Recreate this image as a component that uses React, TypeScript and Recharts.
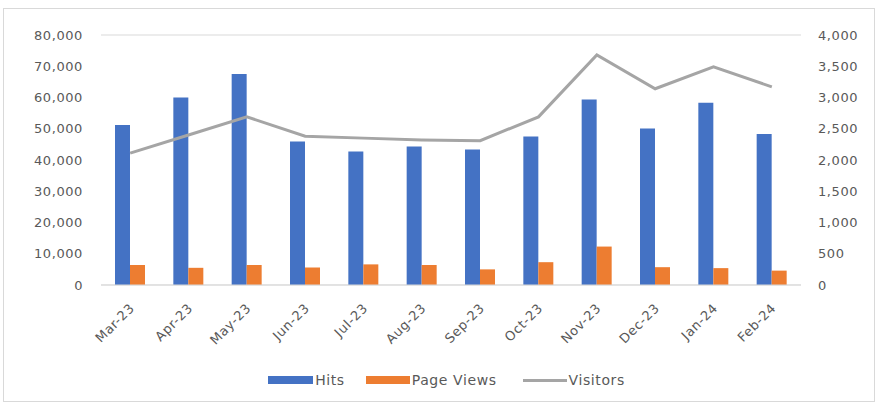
import React from 'react'
import { ComposedChart, Bar, Line, XAxis, YAxis, CartesianGrid, Legend } from 'recharts'

const months = ['Mar-23', 'Apr-23', 'May-23', 'Jun-23', 'Jul-23', 'Aug-23', 'Sep-23', 'Oct-23', 'Nov-23', 'Dec-23', 'Jan-24', 'Feb-24']
const hits = [51200, 60000, 67500, 45900, 42700, 44300, 43400, 47500, 59400, 50100, 58300, 48300]
const pageViews = [6400, 5500, 6400, 5600, 6600, 6400, 5000, 7300, 12300, 5700, 5400, 4600]
const visitors = [2110, 2400, 2690, 2380, 2350, 2320, 2310, 2690, 3680, 3140, 3490, 3170]

const leftTicks = [0, 10000, 20000, 30000, 40000, 50000, 60000, 70000, 80000]
const rightTicks = [0, 500, 1000, 1500, 2000, 2500, 3000, 3500, 4000]

const data = months.map((month, i) => ({
  month,
  hits: hits[i],
  pageViews: pageViews[i],
  visitors: visitors[i],
}))

const textColor = '#595959'
const font = '"DejaVu Sans", Arial, sans-serif'

const fmt = (v: number) => v.toLocaleString('en-US')

// rotated month labels, ending at the tick
const MonthTick = ({ x, y, payload }: any) => (
  <text
    x={x + 5}
    y={y + 16}
    transform={`rotate(-45 ${x + 5} ${y + 16})`}
    textAnchor="end"
    fill={textColor}
    fontSize={13}
    letterSpacing={0.6}
    fontFamily={font}
  >
    {payload.value}
  </text>
)

const LegendContent = () => (
  <div style={{ display: 'flex', justifyContent: 'center', alignItems: 'center', height: 38, paddingBottom: 12, paddingLeft: 14, boxSizing: 'border-box', fontFamily: font, fontSize: 14, letterSpacing: 0.6, color: textColor }}>
    <span style={{ display: 'inline-block', width: 45, height: 8, background: '#4472C4', marginRight: 2 }} />
    <span style={{ marginRight: 21 }}>Hits</span>
    <span style={{ display: 'inline-block', width: 44, height: 8, background: '#ED7D31', marginRight: 2 }} />
    <span style={{ marginRight: 26 }}>Page Views</span>
    <span style={{ display: 'inline-block', width: 44, height: 3, background: '#A5A5A5', marginRight: 2 }} />
    <span>Visitors</span>
  </div>
)

export default function App() {
  return (
    <div style={{ position: 'absolute', left: 0, top: 0, width: 879, height: 405, background: '#fff' }}>
      <div style={{ position: 'absolute', left: 3, top: 8, width: 872, height: 394, border: '1px solid #d9d9d9', boxSizing: 'border-box' }} />
      <ComposedChart
        width={879}
        height={405}
        data={data}
        margin={{ top: 35, right: 0, left: 0, bottom: 0 }}
        barCategoryGap="24%"
        barGap={0}
      >
        <CartesianGrid vertical={false} stroke="#d9d9d9" />
        <XAxis
          dataKey="month"
          axisLine={{ stroke: '#d9d9d9' }}
          tickLine={false}
          tick={<MonthTick />}
          interval={0}
          height={82}
        />
        <YAxis
          yAxisId="left"
          width={101}
          domain={[0, 80000]}
          ticks={leftTicks}
          tickFormatter={fmt}
          axisLine={false}
          tickLine={false}
          tickSize={0}
          tickMargin={18}
          tick={{ fill: textColor, fontSize: 13, fontFamily: font, letterSpacing: 0.6 }}
        />
        <YAxis
          yAxisId="right"
          orientation="right"
          width={78}
          domain={[0, 4000]}
          ticks={rightTicks}
          tickFormatter={fmt}
          axisLine={false}
          tickLine={false}
          tickSize={0}
          tickMargin={17}
          tick={{ fill: textColor, fontSize: 13, fontFamily: font, letterSpacing: 0.6, textAnchor: 'start' }}
        />
        <Legend verticalAlign="bottom" height={38} content={<LegendContent />} />
        <Bar yAxisId="left" dataKey="hits" name="Hits" fill="#4472C4" isAnimationActive={false} />
        <Bar yAxisId="left" dataKey="pageViews" name="Page Views" fill="#ED7D31" isAnimationActive={false} />
        <Line
          yAxisId="right"
          dataKey="visitors"
          name="Visitors"
          stroke="#A5A5A5"
          strokeWidth={3}
          dot={false}
          type="linear"
          isAnimationActive={false}
        />
      </ComposedChart>
    </div>
  )
}
